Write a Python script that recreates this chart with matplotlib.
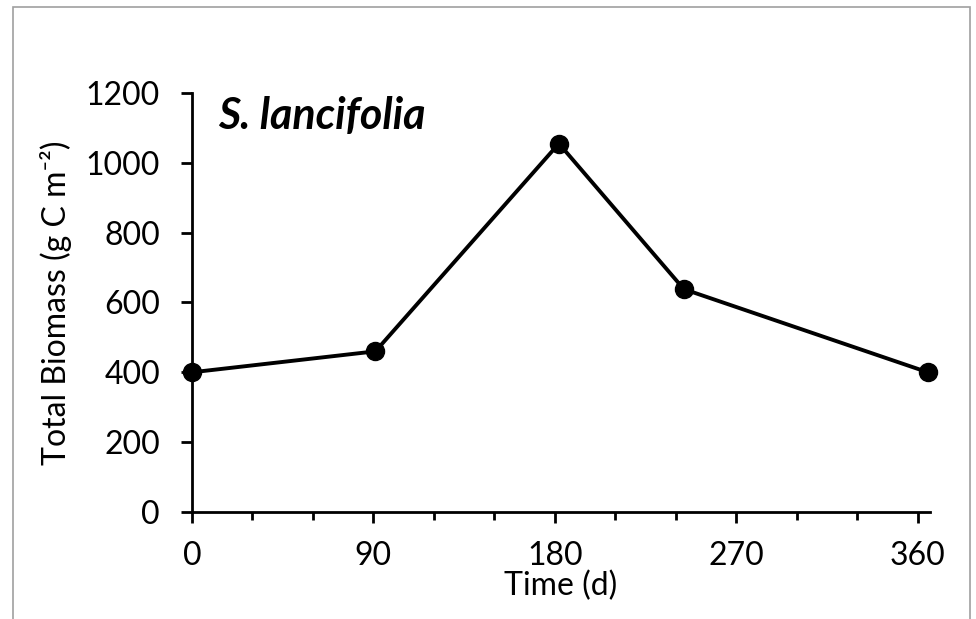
import matplotlib
matplotlib.use('Agg')
import matplotlib.pyplot as plt
from matplotlib.patches import Rectangle
from matplotlib.ticker import MultipleLocator

plt.rcParams['font.family'] = ['Lato', 'DejaVu Sans']

# data
days = [0, 91, 182, 244, 365]
biomass = [400, 460, 1055, 638, 400]
x_ticks = [0, 90, 180, 270, 360]
y_ticks = [0, 200, 400, 600, 800, 1000, 1200]

fig = plt.figure(figsize=(9.76, 6.19), dpi=100)
ax = fig.add_axes([0.1967, 0.1729, 0.756, 0.677])

# gray frame round the chart area
fig.patches.append(Rectangle((0.0133, -0.01), 0.9805, 0.998, transform=fig.transFigure,
                             fill=False, edgecolor='#a0a0a0', linewidth=1.2))

ax.plot(days, biomass, color='black', linewidth=2.8, marker='o',
        markersize=13, clip_on=False, zorder=3)

ax.set_xlim(0, 366)
ax.set_ylim(0, 1200)
ax.set_xticks(x_ticks)
ax.set_yticks(y_ticks)
ax.xaxis.set_minor_locator(MultipleLocator(30))

for side in ['top', 'right']:
    ax.spines[side].set_visible(False)
for side in ['left', 'bottom']:
    ax.spines[side].set_linewidth(2.0)

ax.tick_params(axis='both', which='major', direction='out', length=8,
               width=2.0, labelsize=23)
ax.tick_params(axis='x', which='major', pad=13)
ax.tick_params(axis='x', which='minor', direction='out', length=6, width=2.0)
ax.tick_params(axis='y', which='major', pad=15)

ax.set_xlabel('Time (d)', fontsize=23, labelpad=0)
ax.set_ylabel('Total Biomass (g C m\u207b\u00b2)', fontsize=23, labelpad=10)

ax.text(0.035, 0.915, 'S. lancifolia', transform=ax.transAxes, fontsize=31,
        fontweight='bold', fontstyle='italic', ha='left', va='baseline')

fig.savefig('out.png', dpi=100)
